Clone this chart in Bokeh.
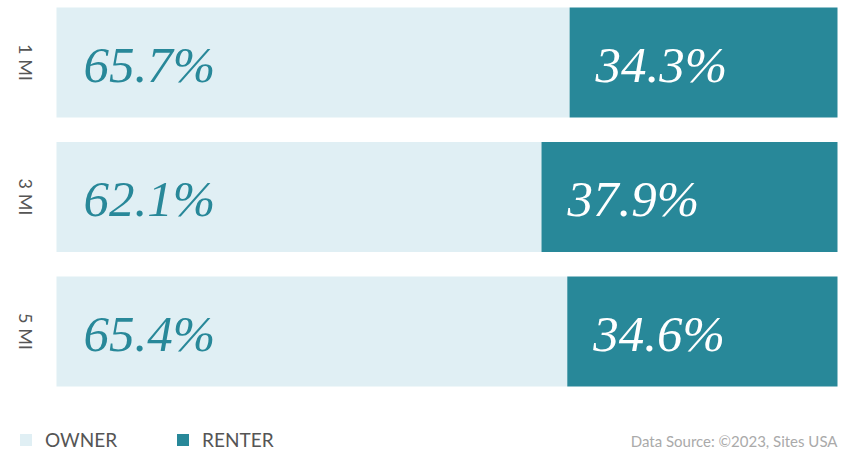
import math
from bokeh.plotting import figure
from bokeh.models import Range1d, Legend, LegendItem, Label, ColumnDataSource
from bokeh.core.properties import value
from bokeh.embed import file_html
from bokeh.resources import INLINE

# ---- data ----
categories = ["1 MI", "3 MI", "5 MI"]
owner = [65.7, 62.1, 65.4]
renter = [34.3, 37.9, 34.6]
series_names = ["OWNER", "RENTER"]
source_note = "Data Source: \u00a92023, Sites USA"

OWNER_COLOR = "#e0eff4"
RENTER_COLOR = "#288899"

W, H = 846, 451
# frame covers the whole canvas; bars span px 56..837
px_per_unit_x = 781 / 100.0
x_start = -56 / px_per_unit_x
x_end = 100 + 9 / px_per_unit_x
px_per_cat = 134.5
y_top = -62 / px_per_cat
y_bottom = (H - 62) / px_per_cat

p = figure(width=W, height=H, x_range=Range1d(x_start, x_end),
           y_range=Range1d(y_bottom, y_top), output_backend="svg",
           toolbar_location=None, min_border=0, x_axis_type=None,
           y_axis_type=None)
p.grid.visible = False
p.outline_line_color = None
p.background_fill_color = "white"

idx = list(range(len(categories)))
src = ColumnDataSource(dict(
    y=idx, cat=categories, owner=owner, renter=renter,
    total=[o + r for o, r in zip(owner, renter)],
    owner_lbl=[f"{v:.1f}%" for v in owner],
    renter_lbl=[f"{v:.1f}%" for v in renter],
))

bar_h = 110 / px_per_cat
r_owner = p.hbar(y="y", left=0, right="owner", height=bar_h, source=src,
                 fill_color=OWNER_COLOR, line_color=None)
r_renter = p.hbar(y="y", left="owner", right="total", height=bar_h, source=src,
                  fill_color=RENTER_COLOR, line_color=None)

font_pct = value("Liberation Serif")
p.text(x=0, y="y", text="owner_lbl", source=src, x_offset=27, y_offset=2,
       text_align="left", text_baseline="middle", text_font=font_pct,
       text_font_style="italic", text_font_size="51px", text_color=RENTER_COLOR)
p.text(x="owner", y="y", text="renter_lbl", source=src, x_offset=26, y_offset=2,
       text_align="left", text_baseline="middle", text_font=font_pct,
       text_font_style="italic", text_font_size="51px", text_color="white")

# category labels, rotated
label_x = x_start + 25 / px_per_unit_x
p.text(x=label_x, y="y", text="cat", source=src, angle=-math.pi / 2,
       text_align="center", text_baseline="middle", text_font=value("Lato"),
       text_font_size="18px", text_color="#555555")

legend = Legend(items=[LegendItem(label=series_names[0], renderers=[r_owner]),
                       LegendItem(label=series_names[1], renderers=[r_renter])],
                orientation="horizontal", location=(18, 0), padding=0, margin=0,
                spacing=58, glyph_width=15, glyph_height=15, label_standoff=12,
                label_height=15, label_text_font="Lato", label_text_font_size="19px",
                label_text_color="#555555", border_line_color=None,
                background_fill_alpha=0)
p.add_layout(legend)

p.add_layout(Label(x=837, y=2, x_units="screen", y_units="screen",
                   text=source_note, text_align="right", text_baseline="bottom",
                   text_font="Lato", text_font_size="15px", text_color="#aaaaaa"))

open("out.html", "w").write(file_html(p, INLINE))
